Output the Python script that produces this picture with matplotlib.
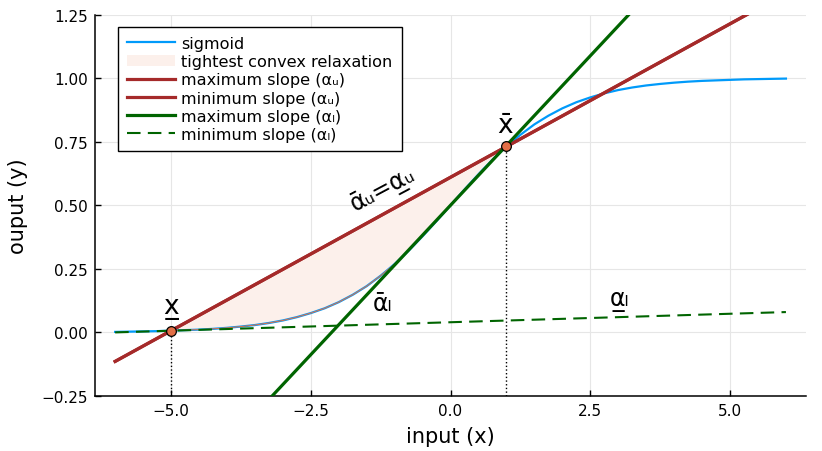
import matplotlib
matplotlib.use("Agg")
import matplotlib.pyplot as plt
from matplotlib.patches import Patch
from matplotlib.lines import Line2D

plt.rcParams['font.family'] = ['DejaVu Sans', 'Noto Sans']

# sigmoid curve, values
x_sig = [-6.0, -5.75, -5.5, -5.25, -5.0, -4.75, -4.5, -4.25, -4.0, -3.75, -3.5, -3.25,
         -3.0, -2.75, -2.5, -2.25, -2.0, -1.75, -1.5, -1.25, -1.0, -0.75, -0.5, -0.25,
         0.0, 0.25, 0.5, 0.75, 1.0, 1.25, 1.5, 1.75, 2.0, 2.25, 2.5, 2.75,
         3.0, 3.25, 3.5, 3.75, 4.0, 4.25, 4.5, 4.75, 5.0, 5.25, 5.5, 5.75, 6.0]
y_sig = [0.002, 0.003, 0.004, 0.005, 0.007, 0.009, 0.011, 0.014, 0.018, 0.023, 0.029, 0.037,
         0.047, 0.060, 0.076, 0.095, 0.119, 0.148, 0.182, 0.223, 0.269, 0.321, 0.378, 0.438,
         0.500, 0.562, 0.622, 0.679, 0.731, 0.777, 0.818, 0.852, 0.881, 0.905, 0.924, 0.940,
         0.953, 0.963, 0.971, 0.977, 0.982, 0.986, 0.989, 0.991, 0.993, 0.995, 0.996, 0.997, 0.998]

# relaxation region between x_lo and x_hi
x_lo, x_hi = -5.0, 1.0
y_lo, y_hi = 0.007, 0.731

# bounding lines (end points)
upper_x = [-6.0, 6.0]
upper_y = [-0.114, 1.334]
lmax_x = [-6.0, 6.0]
lmax_y = [-0.910, 1.910]
lmin_x = [-6.0, 6.0]
lmin_y = [0.000, 0.080]

blue = "#009AFA"
coral = "#E26F46"
brown = "#A52A2A"
green = "#006400"
fillc = "#FCF0EB"
dash = (0, (6.5, 3.5))

fig = plt.figure(figsize=(8.22, 4.52), dpi=100)
ax = fig.add_axes([0.1156, 0.1217, 0.865, 0.844])

ax.plot(x_sig, y_sig, color=blue, lw=1.6, zorder=3)

# shaded region: chord above, sigmoid below
xs = [x for x in x_sig if x_lo <= x <= x_hi]
ys = [y for x, y in zip(x_sig, y_sig) if x_lo <= x <= x_hi]
chord = [y_lo + (y_hi - y_lo) * (x - x_lo) / (x_hi - x_lo) for x in xs]
ax.fill_between(xs, ys, chord, color=fillc, lw=0, zorder=2)
ax.plot(xs, ys, color=coral, lw=0.7, zorder=4)

ax.plot(upper_x, upper_y, color=brown, lw=2.3, zorder=5)
ax.plot(upper_x, upper_y, color=brown, lw=2.3, zorder=5)
ax.plot(lmax_x, lmax_y, color=green, lw=2.3, zorder=5)
ax.plot(lmin_x, lmin_y, color=green, lw=1.5, ls=dash, zorder=5)

# dotted drops and end points
ax.plot([x_lo, x_lo], [-0.25, y_lo], color="black", lw=1.0, ls=":", zorder=6)
ax.plot([x_hi, x_hi], [-0.25, y_hi], color="black", lw=1.0, ls=":", zorder=6)
ax.plot([x_lo, x_hi], [y_lo, y_hi], ls="none", marker="o", ms=7,
        mfc=coral, mec="black", mew=0.9, zorder=7)

# annotations
ax.text(-5.0, 0.105, "x\u0332", fontsize=19, ha="center", va="center")
ax.text(0.97, 0.815, "x\u0304", fontsize=19, ha="center", va="center")
ax.text(-1.22, 0.565, "\u1fb1\u1d64=\u03b1\u0332\u1d64", fontsize=17, ha="center",
        va="center", rotation=28)
ax.text(-1.22, 0.115, "\u1fb1\u2097", fontsize=17, ha="center", va="center")
ax.text(3.02, 0.13, "\u03b1\u0332\u2097", fontsize=17, ha="center", va="center")

ax.set_xlim(-6.36, 6.36)
ax.set_ylim(-0.25, 1.25)
ax.set_xticks([-5.0, -2.5, 0.0, 2.5, 5.0])
ax.set_xticklabels(["\u22125.0", "\u22122.5", "0.0", "2.5", "5.0"])
yt = [-0.25, 0.0, 0.25, 0.5, 0.75, 1.0, 1.25]
ax.set_yticks(yt)
ax.set_yticklabels(["\u22120.25", "0.00", "0.25", "0.50", "0.75", "1.00", "1.25"])
ax.tick_params(direction="in", length=4, width=1, labelsize=11, pad=5)
ax.grid(True, color="#e6e6e6", lw=0.8)
ax.set_axisbelow(True)
for s in ["top", "right"]:
    ax.spines[s].set_visible(False)
for s in ["left", "bottom"]:
    ax.spines[s].set_linewidth(1.1)

ax.set_xlabel("input (x)", fontsize=15, labelpad=6)
ax.set_ylabel("ouput (y)", fontsize=15, labelpad=10)

handles = [
    Line2D([], [], color=blue, lw=1.6),
    Patch(facecolor=fillc, edgecolor="none"),
    Line2D([], [], color=brown, lw=2.3),
    Line2D([], [], color=brown, lw=2.3),
    Line2D([], [], color=green, lw=2.3),
    Line2D([], [], color=green, lw=1.5, ls=dash),
]
labels = ["sigmoid", "tightest convex relaxation",
          "maximum slope (\u03b1\u1d64)", "minimum slope (\u03b1\u1d64)",
          "maximum slope (\u03b1\u2097)", "minimum slope (\u03b1\u2097)"]
leg = ax.legend(handles, labels, loc="upper left", bbox_to_anchor=(0.032, 0.967),
                borderaxespad=0, fontsize=11.6, fancybox=False, framealpha=1,
                edgecolor="black", handlelength=3.0, handletextpad=0.4,
                labelspacing=0.2, borderpad=0.55)
leg.get_frame().set_linewidth(1.0)

fig.savefig("out.png", dpi=100)
